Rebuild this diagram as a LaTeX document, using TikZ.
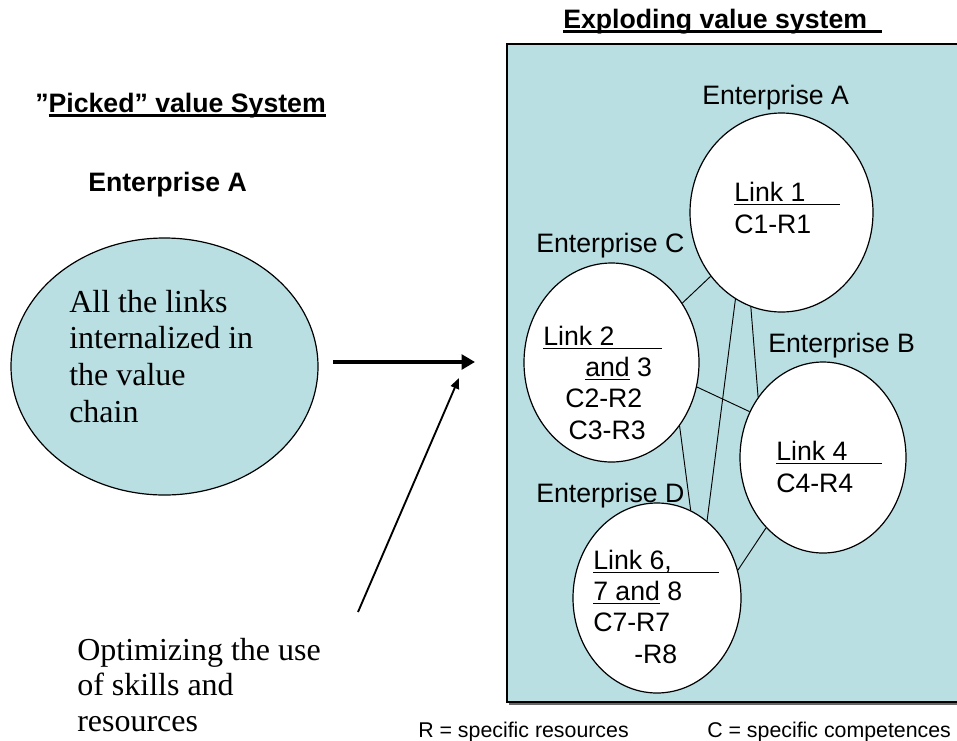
\documentclass[tikz,border=0pt]{standalone}
\usepackage{fontspec}
\setmainfont{Liberation Serif}
\setsansfont{Liberation Sans}
\usetikzlibrary{arrows.meta,shapes.geometric}

\definecolor{slideblue}{RGB}{185,223,227}
\newsavebox\ulsave
\newcommand{\ulfill}[2]{\rlap{\rule[-2.6pt]{#1}{1.3pt}}#2}
\newcommand{\ul}[1]{\sbox\ulsave{#1}\ulfill{\wd\ulsave}{\usebox\ulsave}}
\newcommand{\ulhead}[2][\wd\ulsave]{\sbox\ulsave{#2}\rlap{\rule[-3.6pt]{#1}{2pt}}\usebox\ulsave}

\begin{document}
\begin{tikzpicture}[x=0.75pt,y=-0.75pt,
    heading/.style={font=\sffamily\bfseries\fontsize{20}{24}\selectfont,
      anchor=base west, inner sep=0pt},
    firmname/.style={font=\sffamily\fontsize{20}{24}\selectfont,
      anchor=base west, inner sep=0pt},
    linktext/.style={font=\sffamily\fontsize{20}{23.3}\selectfont,
      anchor=base west, inner sep=0pt, align=left},
    note/.style={font=\fontsize{24}{27.5}\selectfont,
      anchor=base west, inner sep=0pt, align=left},
    legend/.style={font=\sffamily\fontsize{16}{19}\selectfont,
      anchor=base west, inner sep=0pt},
    firm/.style={ellipse, draw, fill=white, line width=0.9pt, inner sep=0pt},
    tie/.style={line width=0.7pt}]
  \useasboundingbox (0,0) rectangle (957,740);

  % left: picked value system (multi-line texts sit on their last baseline)
  \node[heading] (picked) at (35,112) {”\ulhead{Picked” value System}};
  \node[heading] (ownerA) at (88,191) {Enterprise A};
  \node[ellipse, draw, fill=slideblue, line width=0.9pt, inner sep=0pt,
    minimum width=230.25pt, minimum height=192.75pt] (chain) at (164.5,366.5) {};
  \node[note] (chaintext) at (69,422) {All the links\\internalized in\\the value\\chain};
  \node[note, font=\fontsize{24}{26.5}\selectfont] (optim) at (77,731)
    {Optimizing the use\\of skills and\\resources};

  % arrows
  \coordinate (push tail) at (333,362);
  \coordinate (push tip) at (475,362);
  \coordinate (skill tail) at (358,612);
  \coordinate (skill tip) at (459,378);
  \draw[line width=3pt, -{Triangle[length=10pt,width=11pt]}] (push tail) -- (push tip);
  \draw[line width=1.4pt, -{Triangle[length=8pt,width=6.5pt]}] (skill tail) -- (skill tip);

  % right: exploding value system
  \node[heading] (exploding) at (563,28) {\ulhead{Exploding value system~~}};
  \fill[black!60] (509,46) rectangle (960,705);
  \draw[fill=slideblue, line width=0.8pt] (507,44) rectangle (958,702);

  % enterprises
  \node[firm, minimum width=137.25pt, minimum height=149.25pt] (firmA) at (781.5,212.5) {};
  \node[firm, minimum width=131.25pt, minimum height=149.25pt] (firmC) at (611.5,362.5) {};
  \node[firm, minimum width=124.5pt, minimum height=143.25pt] (firmB) at (823,457.5) {};
  \node[firm, minimum width=126pt, minimum height=142.5pt] (firmD) at (657,598) {};

  % ties
  \draw[tie] (firmA.222) -- (firmC.40);
  \draw[tie] (firmA.242) -- (firmD.57);
  \draw[tie] (firmA.252) -- (firmB.137);
  \draw[tie] (firmC.344) -- (firmB.148);
  \draw[tie] (firmC.317) -- (firmD.69);
  \draw[tie] (firmB.231) -- (firmD.19);

  % names and links
  \node[firmname] (nameA) at (702,104) {Enterprise A};
  \node[firmname] (nameC) at (536,252) {Enterprise C};
  \node[firmname] (nameB) at (768,352) {Enterprise B};
  \node[firmname] (nameD) at (536,502) {Enterprise D};
  \node[linktext] (linkA) at (734,233) {\ulfill{79.5pt}{Link 1}\\C1-R1};
  \node[linktext] (linkC) at (543,439)
    {\ulfill{89pt}{Link 2}\\\hspace{31.5pt}\ul{and} 3\\\hspace{16.5pt}C2-R2\\\hspace{19pt}C3-R3};
  \node[linktext] (linkB) at (776,492) {\ulfill{79pt}{Link 4}\\C4-R4};
  \node[linktext] (linkD) at (593,663)
    {\ulfill{94.5pt}{Link 6,}\\\ul{7 and} 8\\C7-R7\\\hspace{30.75pt}-R8};

  % legend
  \node[legend] (legR) at (418,737) {R = specific resources};
  \node[legend] (legC) at (707,737) {C = specific competences};
\end{tikzpicture}
\end{document}
